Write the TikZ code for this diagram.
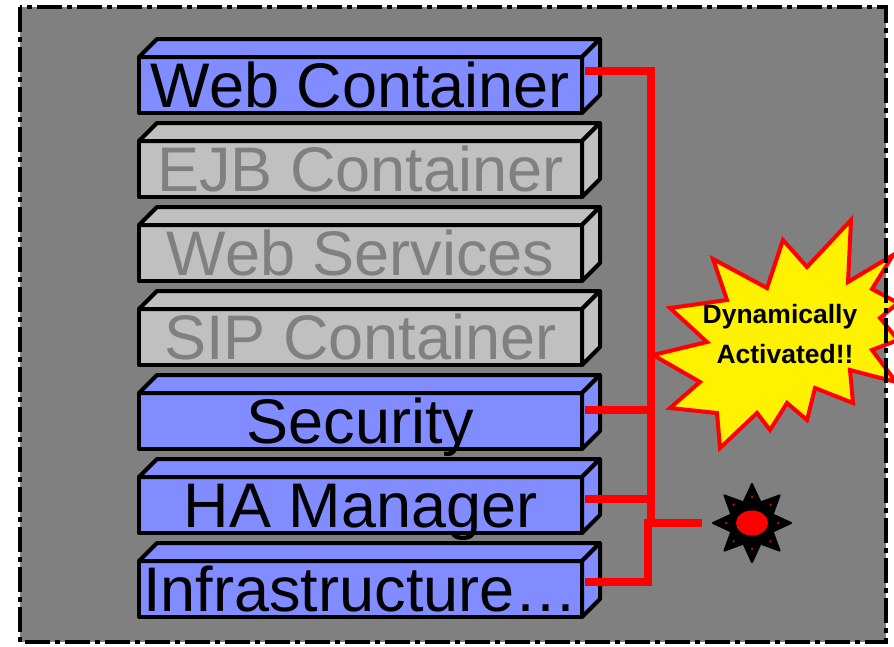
\documentclass[tikz,border=0pt]{standalone}
\usepackage{fontspec}
\setmainfont{Liberation Sans}
\usetikzlibrary{shapes.geometric}
\definecolor{boxblue}{RGB}{128,140,255}
\definecolor{boxgray}{RGB}{192,192,192}
\definecolor{txtgray}{RGB}{128,128,128}
\definecolor{bggray}{RGB}{128,128,128}
\tikzset{
  layerbox/.style={draw=black, line width=4pt, minimum width=443pt, minimum height=56pt,
    inner sep=0pt, outer sep=0pt, text height=45pt, text depth=0pt,
    font=\fontsize{63}{70}\selectfont, line join=round},
  activebox/.style={layerbox, fill=boxblue, text=black},
  idlebox/.style={layerbox, fill=boxgray, text=txtgray},
  faceline/.style={draw=black, line width=4pt, line join=round},
  redline/.style={draw=red, line width=8pt},
  burstlabel/.style={anchor=base, inner sep=0pt, font=\fontsize{26.5}{30}\selectfont\bfseries},
  frame/.style={draw=black, line width=4pt, dash pattern=on 25pt off 5pt on 5pt off 5pt}
}
\newcommand\layerfaces[2]{%
  \filldraw[faceline, fill=#2] (#1.north west) -- ([shift={(18pt,18pt)}]#1.north west)
     -- ([shift={(18pt,18pt)}]#1.north east) -- (#1.north east) -- cycle;
  \filldraw[faceline, fill=#2] (#1.north east) -- ([shift={(18pt,18pt)}]#1.north east)
     -- ([shift={(18pt,18pt)}]#1.south east) -- (#1.south east) -- cycle;
}
\begin{document}
\begin{tikzpicture}[x=1pt, y=-1pt]
\useasboundingbox (0,0) rectangle (894,646);
\fill[bggray] (20,7) rectangle (886,642);

% layers
\node[activebox] (web) at (360.5,85) {Web Container};
\layerfaces{web}{boxblue}
\node[idlebox] (ejb) at (360.5,169) {EJB Container};
\layerfaces{ejb}{boxgray}
\node[idlebox] (ws) at (360.5,253) {Web Services};
\layerfaces{ws}{boxgray}
\node[idlebox] (sip) at (360.5,337) {SIP Container};
\layerfaces{sip}{boxgray}
\node[activebox] (sec) at (360.5,421) {Security};
\layerfaces{sec}{boxblue}
\node[activebox] (ha) at (360.5,505) {HA Manager};
\layerfaces{ha}{boxblue}
\node[activebox] (infra) at (360.5,589) {Infrastructure…};
\layerfaces{infra}{boxblue}

% spark
\node[star, star points=8, star point ratio=1.75, minimum size=78pt, inner sep=0pt,
      fill=black, draw=black, line width=2pt, line join=round] (spark) at (752,523) {};
\node[ellipse, fill=red, minimum width=32pt, minimum height=25pt, inner sep=0pt] (core) at (752,523) {};
\foreach \a in {0,45,...,315} \fill[red] (spark.center) ++(\a:26) circle[radius=1.2pt];

% connectors
\coordinate (hub) at (651,523);
\coordinate (hubb) at (648,519);
\coordinate (webp) at ([shift={(3pt,14pt)}]web.east);
\coordinate (secp) at ([shift={(3pt,11pt)}]sec.east);
\coordinate (hap) at ([shift={(3pt,6pt)}]ha.east);
\coordinate (infp) at ([shift={(3pt,7pt)}]infra.east);
\draw[redline] (webp) -| (hub) -- ([xshift=-9pt]spark.west);
\draw[redline] (secp) -- (secp -| hub);
\draw[redline] (hap) -- (hap -| hub);
\draw[redline] (infp) -| (hubb);

% burst
\filldraw[fill=yellow, draw=red, line width=4pt]
  (653,355) -- (707,342) -- (670,308) -- (727,300) -- (713,259) -- (767,288)
  -- (783,240) -- (807,267) -- (851,220) -- (848,282) -- (893,255) -- (872,289)
  -- (898,303) -- (880,318) -- (898,340) -- (872,350) -- (896,382) -- (850,370)
  -- (853,403) -- (815,388) -- (807,420) -- (787,403) -- (770,430) -- (757,413)
  -- (720,448) -- (717,413) -- (670,408) -- (700,382) -- cycle;
\node[burstlabel] (dyn) at (780,323) {Dynamically};
\node[burstlabel] (act) at (785,363) {Activated!!};

% frame
\draw[frame] (20,7) rectangle (886,642);
\end{tikzpicture}
\end{document}
